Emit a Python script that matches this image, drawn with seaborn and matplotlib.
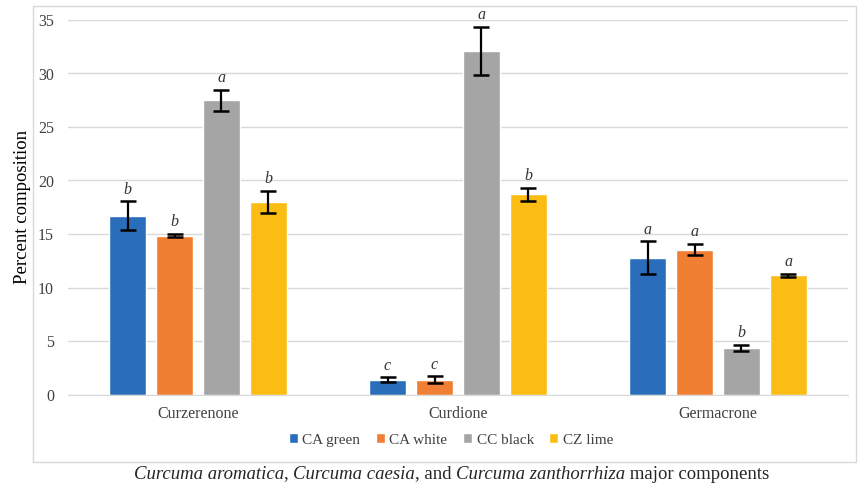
import pandas as pd
import seaborn as sns
import matplotlib.pyplot as plt
from matplotlib.patches import Rectangle, Patch

# =============== DADOS ===============
components = ["Curzerenone", "Curdione", "Germacrone"]
samples = ["CA green", "CA white", "CC black", "CZ lime"]

ca_green = [16.7, 1.4, 12.8]
ca_white = [14.85, 1.4, 13.55]
cc_black = [27.5, 32.1, 4.35]
cz_lime = [18.0, 18.7, 11.15]

err_ca_green = [1.35, 0.2, 1.5]
err_ca_white = [0.15, 0.3, 0.55]
err_cc_black = [1.0, 2.25, 0.3]
err_cz_lime = [1.05, 0.6, 0.15]

letters_ca_green = ["b", "c", "a"]
letters_ca_white = ["b", "c", "a"]
letters_cc_black = ["a", "a", "b"]
letters_cz_lime = ["b", "b", "a"]

colors = ["#2A6EBB", "#F07F34", "#A5A5A5", "#FBBC14"]

values = [ca_green, ca_white, cc_black, cz_lime]
errors = [err_ca_green, err_ca_white, err_cc_black, err_cz_lime]
letters = [letters_ca_green, letters_ca_white, letters_cc_black, letters_cz_lime]

rows = []
for s, vals, errs, lets in zip(samples, values, errors, letters):
    for c, v, e, l in zip(components, vals, errs, lets):
        rows.append({"component": c, "sample": s, "value": v, "err": e, "letter": l})
df = pd.DataFrame(rows)

# =============== FIGURA ===============
sns.set_style("white")
plt.rcParams["font.family"] = ["Liberation Serif", "DejaVu Serif"]

fig = plt.figure(figsize=(8.63, 4.86), dpi=100)
ax = fig.add_axes([68 / 863, 1 - 394.5 / 486, (848 - 68) / 863, (394.5 - 20) / 486])

sns.barplot(data=df, x="component", y="value", hue="sample", order=components,
            hue_order=samples, palette=colors, width=0.723, gap=0.21,
            errorbar=None, saturation=1, legend=False, ax=ax)

# barras de erro e letras
for i, s in enumerate(samples):
    cont = ax.containers[i]
    sub = df[df["sample"] == s].set_index("component").loc[components]
    for bar, (_, r) in zip(cont.patches, sub.iterrows()):
        xc = bar.get_x() + bar.get_width() / 2
        ax.errorbar(xc, r["value"], yerr=r["err"], color="black", capsize=6,
                    elinewidth=1.6, capthick=1.8, fmt="none", zorder=5)
        ax.text(xc, r["value"] + r["err"] + 0.35, r["letter"], ha="center",
                va="bottom", style="italic", fontsize=11.5, color="#333333")

ax.set_ylim(0, 35)
ax.set_xlim(-0.5, 2.5)
ax.set_yticks(range(0, 36, 5))
ax.yaxis.grid(True, color="#D9D9D9", linewidth=1)
ax.set_axisbelow(True)
for sp in ["top", "right", "left"]:
    ax.spines[sp].set_visible(False)
ax.spines["bottom"].set_color("#D9D9D9")
ax.tick_params(axis="y", length=0, labelsize=11.5, colors="#404040", pad=10)
ax.tick_params(axis="x", length=0, labelsize=11.5, colors="#404040", pad=8)
ax.set_xlabel("")
ax.set_ylabel("Percent composition", fontsize=13.5, color="black", labelpad=5)

# legenda
handles = [Patch(facecolor=c, label=s) for c, s in zip(colors, samples)]
fig.legend(handles=handles, loc="center", bbox_to_anchor=(451 / 863, 1 - 440 / 486),
           ncol=4, frameon=False, fontsize=11, handlelength=0.6, handleheight=0.6,
           handletextpad=0.3, columnspacing=1.0, labelcolor="#404040")

# borda externa
fig.patches.append(Rectangle((33 / 863, 1 - 462 / 486), (856 - 33) / 863, (462 - 6) / 486,
                             transform=fig.transFigure, fill=False, edgecolor="#D9D9D9",
                             linewidth=1))

# legenda inferior com partes em itálico
parts = [("Curcuma aromatica", "italic"), (", ", "normal"), ("Curcuma caesia", "italic"),
         (", and ", "normal"), ("Curcuma zanthorrhiza", "italic"), (" major components", "normal")]
fig.canvas.draw()
renderer = fig.canvas.get_renderer()
texts = []
for t, st in parts:
    tx = fig.text(0, 1 - 474 / 486, t, style=st, fontsize=13.5, va="center", ha="left")
    texts.append(tx)
widths = [tx.get_window_extent(renderer).width for tx in texts]
x0 = 451.5 - sum(widths) / 2
for tx, w in zip(texts, widths):
    tx.set_x(x0 / 863)
    x0 += w

fig.savefig("out.png", dpi=100)
